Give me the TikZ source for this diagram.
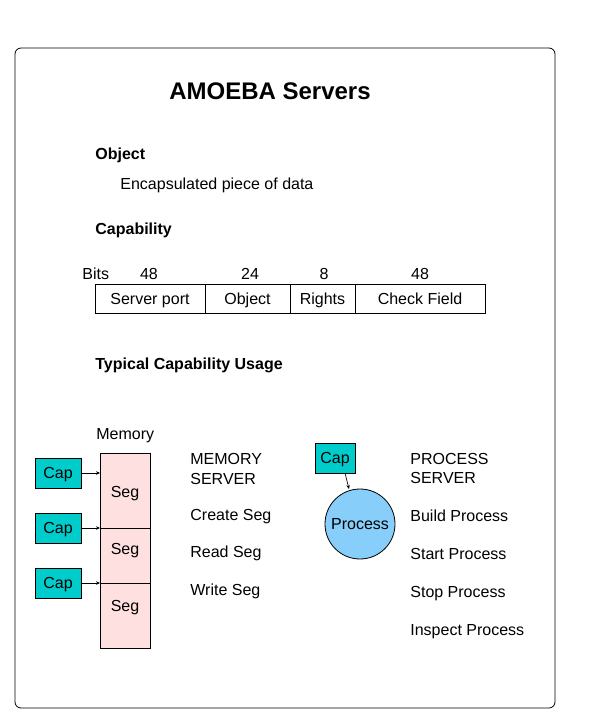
\documentclass[tikz,border=0pt]{standalone}
\usepackage{fontspec}
\setmainfont{Liberation Sans}
\usetikzlibrary{arrows.meta}
\definecolor{capcol}{RGB}{0,204,204}
\definecolor{segcol}{RGB}{255,224,224}
\definecolor{proccol}{RGB}{135,206,250}
\begin{document}
\begin{tikzpicture}[x=1pt,y=-1pt,line width=0.8pt,
  txt/.style={anchor=base west,inner sep=0pt,font=\fontsize{16}{19}\selectfont},
  btxt/.style={txt,font=\fontsize{16}{19}\selectfont\bfseries},
  ctxt/.style={anchor=base,inner sep=0pt,font=\fontsize{16}{19}\selectfont},
  cell/.style={draw,minimum height=29pt,inner sep=0pt,text height=11.5pt,text depth=0pt,font=\fontsize{16}{19}\selectfont},
  capbox/.style={draw,fill=capcol,minimum width=46pt,minimum height=30pt,inner sep=0pt,text height=11.5pt,text depth=0pt,font=\fontsize{16}{19}\selectfont},
  arr/.style={-{Stealth[length=4pt,width=3.5pt]},line width=0.7pt}]
\useasboundingbox (0,0) rectangle (595,723);
\draw[rounded corners=6pt] (15,48) rectangle (555,708);
\node[anchor=base,inner sep=0pt,font=\fontsize{24}{28}\selectfont\bfseries] (title) at (270,99.5) {AMOEBA Servers};
\node[btxt] (obj) at (95,159) {Object};
\node[txt] (enc) at (120,189) {Encapsulated piece of data};
\node[btxt] (capab) at (95,234) {Capability};
\node[txt] (bits) at (82,279) {Bits};
\node[ctxt] (b1) at (149,279) {48};
\node[ctxt] (b2) at (250,279) {24};
\node[ctxt] (b3) at (324,279) {8};
\node[ctxt] (b4) at (420,279) {48};
\node[cell,minimum width=110pt] (c1) at (150,298.5) {Server port};
\node[cell,minimum width=85pt] (c2) at (247.5,298.5) {Object};
\node[cell,minimum width=65pt] (c3) at (322.5,298.5) {Rights};
\node[cell,minimum width=130pt] (c4) at (420,298.5) {Check Field};
\node[btxt] (typ) at (95,369) {Typical Capability Usage};
\node[txt] (memlbl) at (96,439) {Memory};
% memory column
\node[draw,fill=segcol,minimum width=50pt,minimum height=195pt,inner sep=0pt] (mem) at (125,550.5) {};
\coordinate (m1) at (100,473);
\coordinate (m2) at (100,528);
\coordinate (m3) at (100,583);
\draw (m2) -- (150,528);
\draw (m3) -- (150,583);
\node[ctxt] (s1) at (125,497) {Seg};
\node[ctxt] (s2) at (125,554) {Seg};
\node[ctxt] (s3) at (125,611) {Seg};
\node[capbox] (cap1) at (58,473) {Cap};
\node[capbox] (cap2) at (58,528) {Cap};
\node[capbox] (cap3) at (58,583) {Cap};
\draw[arr] (cap1.east) -- (m1);
\draw[arr] (cap2.east) -- (m2);
\draw[arr] (cap3.east) -- (m3);
\node[txt] (ms1) at (190,464) {MEMORY};
\node[txt] (ms2) at (190,484) {SERVER};
\node[txt] (cs) at (190,520) {Create Seg};
\node[txt] (rs) at (190,557) {Read Seg};
\node[txt] (ws) at (190,595) {Write Seg};
% process
\node[draw,circle,fill=proccol,minimum size=70pt,inner sep=0pt,text height=11.5pt,text depth=0pt,font=\fontsize{16}{19}\selectfont] (proc) at (360,524) {Process};
\node[capbox,minimum width=40pt] (cap4) at (335,458) {Cap};
\coordinate (pa) at (345,473);
\coordinate (pb) at (349,489);
\draw[arr] (pa) -- (pb);
\node[txt] (ps1) at (410,464) {PROCESS};
\node[txt] (ps2) at (410,483) {SERVER};
\node[txt] (bp) at (410,521) {Build Process};
\node[txt] (sp) at (410,559) {Start Process};
\node[txt] (stp) at (410,597) {Stop Process};
\node[txt] (ip) at (410,635) {Inspect Process};
\end{tikzpicture}
\end{document}
